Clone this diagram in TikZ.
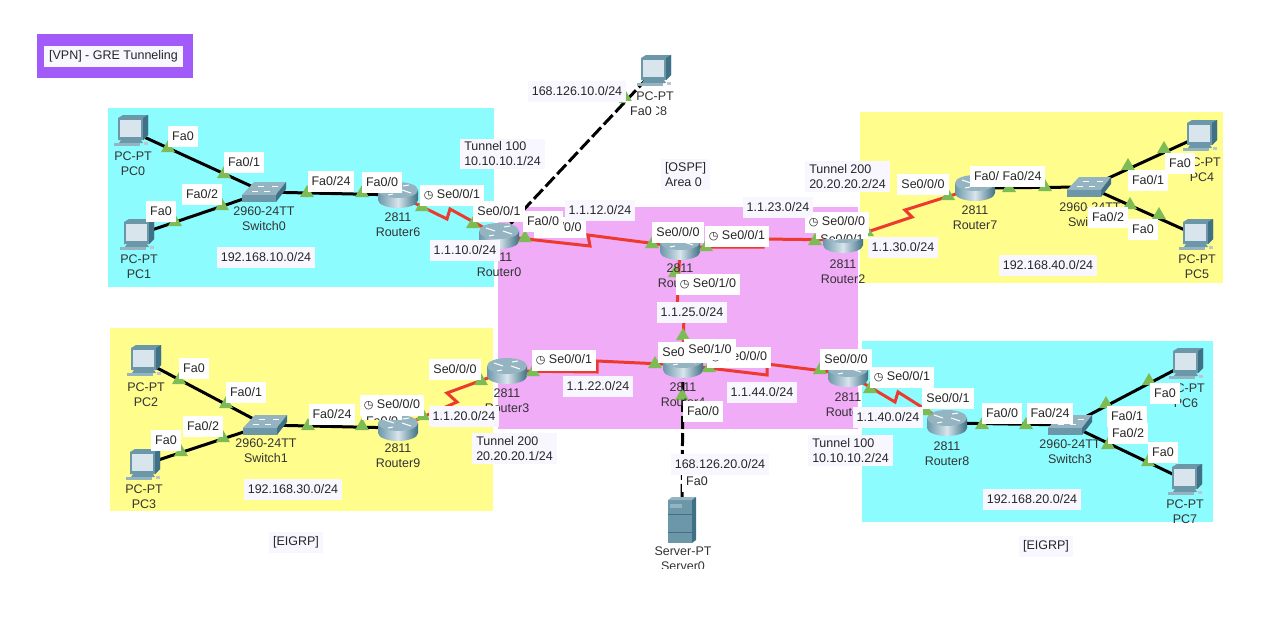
\documentclass[tikz,border=0pt]{standalone}
\usepackage{fontspec}
\setmainfont{Liberation Sans}
\newfontfamily\symbfont{DejaVu Sans}
\usetikzlibrary{shapes.geometric}
\definecolor{zonecyan}{HTML}{8CFCFF}
\definecolor{zoneyellow}{HTML}{FFFD8C}
\definecolor{zonepink}{HTML}{F0ACF6}
\definecolor{boxpurple}{HTML}{A25AF8}
\definecolor{linkred}{HTML}{EC3A2E}
\definecolor{portgreen}{HTML}{7DBB55}
\definecolor{netwhite}{HTML}{F8F7FF}
\definecolor{icondark}{HTML}{3F7085}
\definecolor{iconmid}{HTML}{6B97A9}
\definecolor{icontop}{HTML}{95B4C1}
\definecolor{iconlight}{HTML}{D8E5EC}
\newcommand{\clk}{{\symbfont\fontsize{11}{11}\selectfont\char"25F7}}
\tikzset{
	routerbox/.style={minimum width=40,minimum height=26,inner sep=0},
	switchbox/.style={minimum width=44,minimum height=21,inner sep=0},
	pcbox/.style={minimum width=30,minimum height=30,inner sep=0},
	serverbox/.style={minimum width=28,minimum height=46,inner sep=0},
	ethernet/.style={draw=black,line width=3pt},
	serial/.style={draw=linkred,line width=3pt,line join=miter},
	fiber/.style={draw=black,line width=3pt,dash pattern=on 13pt off 4pt},
	portup/.style={regular polygon,regular polygon sides=3,minimum size=16,inner sep=0,fill=portgreen},
	devtext/.style={align=center,inner sep=0,text=black!80,font=\fontsize{12.5}{15}\selectfont},
	portlabel/.style={fill=white,inner xsep=4,inner ysep=0,minimum height=21,font=\fontsize{12.5}{15}\selectfont,text=black!85},
	netlabel/.style={portlabel,fill=netwhite},
	notelabel/.style={netlabel,align=left,inner ysep=3},
	routericon/.pic={
		\shade[left color=iconmid,right color=icondark,middle color=iconlight] (-20,-5) -- (-20,5) arc[start angle=180,end angle=0,x radius=20,y radius=8] -- (20,-5) -- cycle;
		\fill[icontop] (0,-5) ellipse[x radius=20,y radius=8];
		\draw[white,line width=1pt] (-13,-8) -- (-4,-5) (13,-2) -- (4,-5) (-5,-1) -- (-10,0) (5,-9) -- (11,-10);
	},
	switchicon/.pic={
		\fill[icontop] (-22,3) -- (-10,-10) -- (22,-10) -- (12,3) -- cycle;
		\fill[iconmid] (-22,3) -- (12,3) -- (12,10) -- (-22,10) -- cycle;
		\fill[icondark] (12,3) -- (22,-10) -- (22,-3) -- (12,10) -- cycle;
		\draw[white,line width=0.8pt] (-12,-1) -- (-6,-1) (0,-1) -- (6,-1) (-6,-6) -- (0,-6) (8,-6) -- (14,-6);
	},
	pcicon/.pic={
		\fill[iconmid] (-13,-13) -- (-8,-16) -- (17,-16) -- (17,4) -- (12,9) -- (-13,9) -- cycle;
		\fill[icondark] (12,-13) -- (17,-16) -- (17,4) -- (12,9) -- cycle;
		\fill[iconlight] (-11,-11) rectangle (10,6);
		\fill[iconmid] (-10,9) -- (10,9) -- (12,12) -- (-12,12) -- cycle;
		\fill[icontop] (-17,12) -- (9,12) -- (9,15) -- (-17,15) -- cycle;
		\fill[iconlight!70!gray] (13,11) rectangle (17,14);
	},
	servericon/.pic={
		\fill[iconmid] (-14,-20) rectangle (10,23);
		\fill[icontop] (-14,-20) -- (-10,-23) -- (14,-23) -- (10,-20) -- cycle;
		\fill[icondark] (10,-20) -- (14,-23) -- (14,20) -- (10,23) -- cycle;
		\fill[icontop] (-12,-16) rectangle (0,-12);
		\draw[icondark,line width=0.4pt] (-14,-6) -- (10,-6) (-14,12) -- (10,12);
	},
}
\begin{document}
\begin{tikzpicture}[x=1pt,y=-1pt]
\useasboundingbox (0,0) rectangle (1270,624);
\fill[zonecyan] (108,108) rectangle (494,287);
\fill[zoneyellow] (110,328) rectangle (493,511);
\fill[zoneyellow] (860,112) rectangle (1223,283);
\fill[zonecyan] (862,341) rectangle (1213,522);
\fill[zonepink] (498,207) rectangle (858,429);
\node[fill=boxpurple,minimum width=156,minimum height=44,inner sep=0] (vpnFrame) at (115,56) {};
\foreach \n/\x/\y in {Router0/499/236,Router1/680/247,Router2/843/240,Router3/507/371,Router4/683/365,Router5/848/374,Router6/398/195,Router7/975/188,Router8/947/423,Router9/398/428}{
	\node[routerbox] (\n) at (\x,\y) {};}
\foreach \n/\x/\y in {Switch0/264/192,Switch1/265/425,Switch2/1089/187,Switch3/1070/425}{
	\node[switchbox] (\n) at (\x,\y) {};}
\foreach \n/\x/\y in {PC0/131/131,PC1/137/235,PC2/144/361,PC3/143/465,PC4/1200/136,PC5/1196/235,PC6/1186/364,PC7/1185/480,PC8/654/71}{
	\node[pcbox] (\n) at (\x,\y) {};}
\node[serverbox] (Server0) at (682,520) {};
\draw[ethernet] (PC0.center) -- (Switch0.center);
\draw[ethernet] (PC1.center) -- (Switch0.center);
\draw[ethernet] (Switch0.center) -- (Router6.center);
\draw[ethernet] (PC2.center) -- (Switch1.center);
\draw[ethernet] (PC3.center) -- (Switch1.center);
\draw[ethernet] (Switch1.center) -- (Router9.center);
\draw[ethernet] (Router7.center) -- (Switch2.center);
\draw[ethernet] (Switch2.center) -- (PC4.center);
\draw[ethernet] (Switch2.center) -- (PC5.center);
\draw[ethernet] (Router8.center) -- (Switch3.center);
\draw[ethernet] (Switch3.center) -- (PC6.center);
\draw[ethernet] (Switch3.center) -- (PC7.center);
\draw[fiber] (Router0.center) -- (PC8.center);
\draw[fiber] (Router4.center) -- (Server0.center);
\draw[serial] (Router6.center) -- (447,219) -- (450,209) -- (Router0.center);
\draw[serial] (Router0.center) -- (590,246) -- (588,235) -- (Router1.center);
\draw[serial] (Router1.center) -- (763,247) -- (763,239) -- (Router2.center);
\draw[serial] (Router2.center) -- (912,217) -- (905,210) -- (Router7.center);
\draw[serial] (Router1.center) -- (677,310) -- (684,310) -- (Router4.center);
\draw[serial] (Router9.center) -- (457,402) -- (447,393) -- (Router3.center);
\draw[serial] (Router3.center) -- (597,372) -- (597,361) -- (Router4.center);
\draw[serial] (Router4.center) -- (767,375) -- (767,364) -- (Router5.center);
\draw[serial] (Router5.center) -- (895,402) -- (898,392) -- (Router8.center);
\foreach \n in {Router0,Router1,Router2,Router3,Router4,Router5,Router6,Router7,Router8,Router9}{
	\pic at (\n) {routericon};}
\foreach \n in {Switch0,Switch1,Switch2,Switch3}{
	\pic at (\n) {switchicon};}
\foreach \n in {PC0,PC1,PC2,PC3,PC4,PC5,PC6,PC7,PC8}{
	\pic at (\n) {pcicon};}
\pic at (Server0) {servericon};
\foreach \x/\y [count=\i] in {168/148,224/174,222/206,175/222,307/193,362/193,422/207,473/224,525/238,652/244,706/247,675/273,815/241,867/232,948/196,1009/188,1045/187,1128/166,1164/149,1130/205,1159/215,179/380,226/404,223/438,181/452,308/426,362/426,423/416,481/381,533/372,655/364,709/368,683/336,682/396,820/370,870/389,926/411,982/425,1026/425,1106/404,1149/381,1108/445,1148/462,626/99}{
	\node[portup] (port\i) at (\x,\y) {};}
\node[devtext] (textPC0) at (133,163.5) {PC-PT\\PC0};
\node[devtext] (textPC1) at (139,267) {PC-PT\\PC1};
\node[devtext] (textPC2) at (146,394.5) {PC-PT\\PC2};
\node[devtext] (textPC3) at (144,496.5) {PC-PT\\PC3};
\node[devtext] (textPC4) at (1202,169.5) {PC-PT\\PC4};
\node[devtext] (textPC5) at (1197,267) {PC-PT\\PC5};
\node[devtext] (textPC6) at (1186,396) {PC-PT\\PC6};
\node[devtext] (textPC7) at (1185,511.5) {PC-PT\\PC7};
\begin{scope}
\clip (620,91) rectangle (700,130);
\node[devtext] (textPC8) at (655,103.5) {PC-PT\\PC8};
\end{scope}
\begin{scope}
\clip (630,540) rectangle (740,568);
\node[devtext] (textServer0) at (683,559) {Server-PT\\Server0};
\end{scope}
\node[devtext] (textSwitch0) at (264,218.5) {2960-24TT\\Switch0};
\node[devtext] (textSwitch1) at (266,450.5) {2960-24TT\\Switch1};
\node[devtext] (textSwitch2) at (1090,214.5) {2960-24TT\\Switch2};
\node[devtext] (textSwitch3) at (1070,451.5) {2960-24TT\\Switch3};
\node[devtext] (textRouter0) at (499,265) {2811\\Router0};
\node[devtext] (textRouter1) at (680,275.5) {2811\\Router1};
\node[devtext] (textRouter2) at (843,271.5) {2811\\Router2};
\node[devtext] (textRouter3) at (507,400.5) {2811\\Router3};
\node[devtext] (textRouter4) at (683,394.5) {2811\\Router4};
\node[devtext] (textRouter5) at (848,404.5) {2811\\Router5};
\node[devtext] (textRouter6) at (398,224.5) {2811\\Router6};
\node[devtext] (textRouter7) at (975,217.5) {2811\\Router7};
\node[devtext] (textRouter8) at (947,453.5) {2811\\Router8};
\node[devtext] (textRouter9) at (398,455.5) {2811\\Router9};
\node[netlabel,minimum width=139] (vpnTitle) at (113.5,56) {[VPN] - GRE Tunneling};
\node[portlabel] (fa0PC0) at (183,136) {Fa0};
\node[portlabel] (fa1Switch0) at (244,162) {Fa0/1};
\node[portlabel] (fa2Switch0) at (202,194) {Fa0/2};
\node[portlabel] (fa0PC1) at (161,211) {Fa0};
\node[portlabel] (fa24Switch0) at (331,181) {Fa0/24};
\node[portlabel] (fa0Router6) at (382,182) {Fa0/0};
\node[portlabel] (se1Router6) at (452,195) {\clk\ Se0/0/1};
\node[portlabel] (se1Router0) at (499,211) {Se0/0/1};
\node[portlabel] (se0Router0) at (560,227) {Se0/0/0};
\node[portlabel] (fa0Router0) at (543,221) {Fa0/0};
\node[portlabel] (se0Router1) at (678,232) {Se0/0/0};
\node[portlabel] (se1Router1) at (737,236) {\clk\ Se0/0/1};
\node[portlabel] (se2Router1) at (708,284) {\clk\ Se0/1/0};
\begin{scope}
\clip (805,225) rectangle (875,238);
\node[portlabel] (se1Router2) at (842,239) {Se0/0/1};
\end{scope}
\node[portlabel] (se0Router2) at (837,222) {\clk\ Se0/0/0};
\node[portlabel] (se0Router7) at (923,184) {Se0/0/0};
\node[portlabel] (fa0Router7) at (990,176) {Fa0/0};
\node[portlabel] (fa24Switch2) at (1022,176) {Fa0/24};
\node[portlabel] (fa1Switch2) at (1148,180) {Fa0/1};
\node[portlabel] (fa0PC4) at (1180,163) {Fa0};
\node[portlabel] (fa2Switch2) at (1108,217) {Fa0/2};
\node[portlabel] (fa0PC5) at (1143,229) {Fa0};
\node[portlabel] (fa0PC2) at (194,368) {Fa0};
\node[portlabel] (fa1Switch1) at (246,392) {Fa0/1};
\node[portlabel] (fa2Switch1) at (203,426) {Fa0/2};
\node[portlabel] (fa0PC3) at (166,440) {Fa0};
\node[portlabel] (fa24Switch1) at (332,414) {Fa0/24};
\begin{scope}
\clip (355,405) rectangle (410,419);
\node[portlabel] (fa0Router9) at (382,421) {Fa0/0};
\end{scope}
\node[portlabel] (se0Router9) at (392,405) {\clk\ Se0/0/0};
\node[portlabel] (se0Router3) at (455,369) {Se0/0/0};
\node[portlabel] (se1Router3) at (564,360) {\clk\ Se0/0/1};
\node[portlabel] (se1Router4) at (684,352) {Se0/0/1};
\node[portlabel] (se0Router4) at (739,357) {\clk\ Se0/0/0};
\node[portlabel] (se2Router4) at (710,349) {Se0/1/0};
\node[portlabel] (fa0Router4) at (703,411) {Fa0/0};
\node[portlabel] (se0Router5) at (846,359) {Se0/0/0};
\node[portlabel] (se1Router5) at (902,377) {\clk\ Se0/0/1};
\node[portlabel] (se1Router8) at (948,398) {Se0/0/1};
\node[portlabel] (fa0Router8) at (1002,413) {Fa0/0};
\node[portlabel] (fa24Switch3) at (1050,413) {Fa0/24};
\node[portlabel] (fa1Switch3) at (1127,416) {Fa0/1};
\node[portlabel] (fa2Switch3) at (1128,433) {Fa0/2};
\node[portlabel] (fa0PC6) at (1165,393) {Fa0};
\node[portlabel] (fa0PC7) at (1163,452) {Fa0};
\node[portlabel] (fa0PC8) at (641,111) {Fa0};
\node[portlabel] (fa0Server0) at (697,481) {Fa0};
\node[netlabel] (net10) at (266,257) {192.168.10.0/24};
\node[netlabel] (net30) at (293,489) {192.168.30.0/24};
\node[netlabel] (net40) at (1048,265) {192.168.40.0/24};
\node[netlabel] (net20) at (1032,499) {192.168.20.0/24};
\node[netlabel] (link10) at (465,250) {1.1.10.0/24};
\node[netlabel] (link12) at (600,210) {1.1.12.0/24};
\node[netlabel] (link23) at (778,207) {1.1.23.0/24};
\node[netlabel] (link30) at (903,247) {1.1.30.0/24};
\node[netlabel] (link25) at (692,312) {1.1.25.0/24};
\node[netlabel] (link20) at (464,416) {1.1.20.0/24};
\node[netlabel] (link22) at (598,386) {1.1.22.0/24};
\node[netlabel] (link44) at (762,392) {1.1.44.0/24};
\node[netlabel] (link40) at (888,417) {1.1.40.0/24};
\node[netlabel] (public10) at (577,91) {168.126.10.0/24};
\node[netlabel] (public20) at (720,464) {168.126.20.0/24};
\node[notelabel] (tunnel100a) at (502.5,154) {Tunnel 100\\10.10.10.1/24};
\node[notelabel] (tunnel200b) at (847.5,176.5) {Tunnel 200\\20.20.20.2/24};
\node[notelabel] (tunnel200a) at (514.5,448.5) {Tunnel 200\\20.20.20.1/24};
\node[notelabel] (tunnel100b) at (850.5,450.5) {Tunnel 100\\10.10.10.2/24};
\node[notelabel] (ospfNote) at (685.5,174.5) {[OSPF]\\Area 0};
\node[netlabel] (eigrpLeft) at (296,542) {[EIGRP]};
\node[netlabel] (eigrpRight) at (1046,546) {[EIGRP]};
\end{tikzpicture}
\end{document}
